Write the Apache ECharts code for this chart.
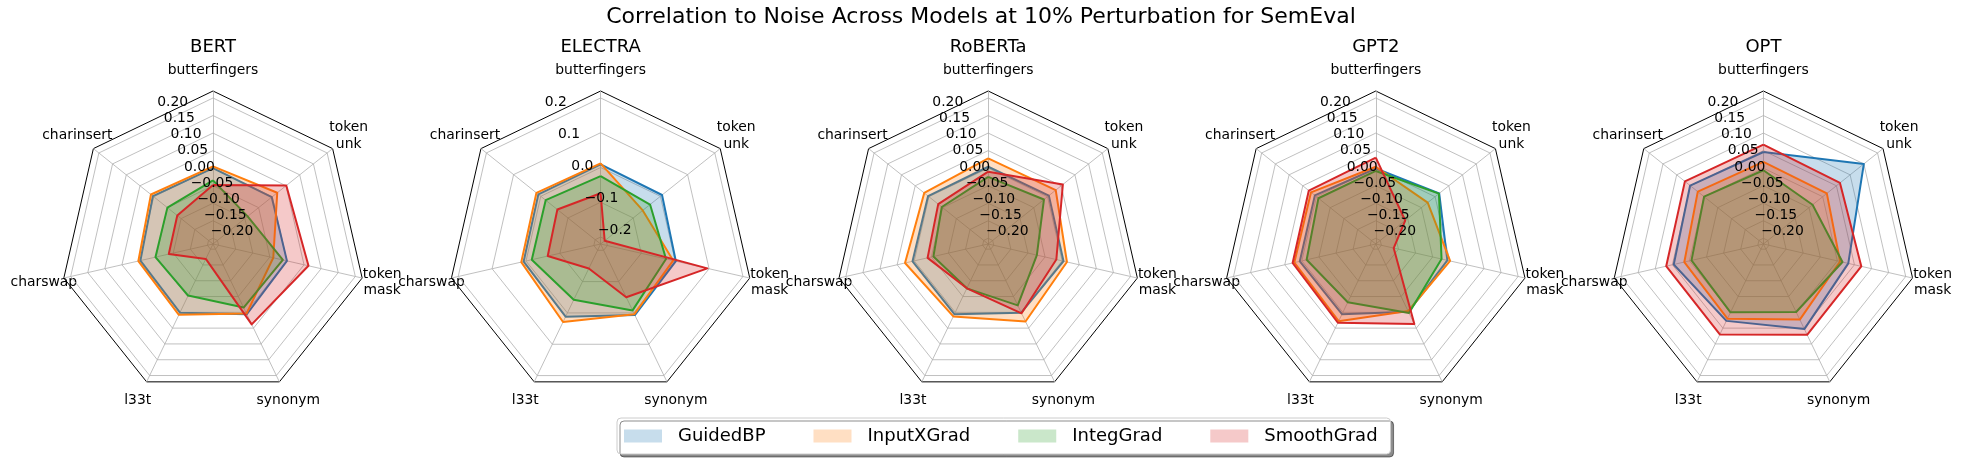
<!DOCTYPE html>
<html>
<head>
<meta charset="utf-8">
<script src="https://cdn.jsdelivr.net/npm/echarts@6/dist/echarts.min.js"></script>
<style>
html,body{margin:0;padding:0;background:#ffffff;}
#chart{width:1962px;height:463px;}
</style>
</head>
<body>
<div id="chart"></div>
<script>
// ---------------- data ----------------
const chartTitle = 'Correlation to Noise Across Models at 10% Perturbation for SemEval';
const models = ['BERT', 'ELECTRA', 'RoBERTa', 'GPT2', 'OPT'];
// perturbations in clockwise order starting at the top
const perturbations = ['butterfingers', 'token\nunk', 'token\nmask', 'synonym', 'l33t', 'charswap', 'charinsert'];
const methods = ['GuidedBP', 'InputXGrad', 'IntegGrad', 'SmoothGrad'];

const BERT_GuidedBP   = [0.000, -0.002, 0.000, 0.006, 0.001, -0.004, 0.003];
const BERT_InputXGrad = [0.005, 0.018, -0.040, 0.004, 0.008, 0.002, 0.010];
const BERT_IntegGrad  = [-0.035, -0.090, -0.012, -0.015, -0.053, -0.048, -0.050];
const BERT_SmoothGrad = [-0.048, 0.051, 0.063, 0.038, -0.169, -0.087, -0.086];

const ELECTRA_GuidedBP   = [0.009, 0.006, 0.002, 0.007, 0.012, 0.007, 0.009];
const ELECTRA_InputXGrad = [0.012, -0.065, -0.006, 0.004, 0.029, 0.014, 0.016];
const ELECTRA_IntegGrad  = [-0.025, -0.038, -0.027, -0.008, -0.042, -0.017, -0.018];
const ELECTRA_SmoothGrad = [-0.074, -0.205, 0.095, -0.050, -0.142, -0.064, -0.061];

const RoBERTa_GuidedBP   = [0.004, 0.005, 0.004, 0.001, 0.006, 0.005, 0.003];
const RoBERTa_InputXGrad = [0.028, 0.030, 0.014, 0.029, 0.013, 0.027, 0.017];
const RoBERTa_IntegGrad  = [-0.025, -0.013, -0.074, -0.022, -0.076, -0.056, -0.047];
const RoBERTa_SmoothGrad = [-0.010, 0.056, -0.017, 0.003, -0.076, -0.039, -0.034];

const GPT2_GuidedBP   = [-0.001, 0.015, -0.007, -0.002, 0.006, 0.006, 0.006];
const GPT2_InputXGrad = [0.004, -0.027, 0.001, -0.004, 0.028, 0.022, 0.020];
const GPT2_IntegGrad  = [-0.008, 0.014, -0.024, 0.002, -0.032, -0.014, -0.007];
const GPT2_SmoothGrad = [0.030, -0.109, -0.164, 0.037, 0.033, 0.027, 0.028];

const OPT_GuidedBP   = [0.046, 0.150, 0.032, 0.053, 0.027, 0.046, 0.051];
const OPT_InputXGrad = [0.018, 0.015, 0.008, 0.023, 0.020, 0.015, 0.023];
const OPT_IntegGrad  = [-0.006, -0.037, 0.015, -0.001, 0.000, -0.006, 0.000];
const OPT_SmoothGrad = [0.067, 0.063, 0.070, 0.071, 0.070, 0.068, 0.070];

// radial tick labels / grid rings
const ticksFine   = [-0.20, -0.15, -0.10, -0.05, 0.00, 0.05, 0.10, 0.15, 0.20];
const ticksCoarse = [-0.2, -0.1, 0.0, 0.1, 0.2];
// radial axis limits (centre value, outer frame value)
const rangeFine    = [-0.2163, 0.22];
const rangeElectra = [-0.22, 0.22];

// ---------------- assembly ----------------
const modelValues = {
  BERT:    [BERT_GuidedBP, BERT_InputXGrad, BERT_IntegGrad, BERT_SmoothGrad],
  ELECTRA: [ELECTRA_GuidedBP, ELECTRA_InputXGrad, ELECTRA_IntegGrad, ELECTRA_SmoothGrad],
  RoBERTa: [RoBERTa_GuidedBP, RoBERTa_InputXGrad, RoBERTa_IntegGrad, RoBERTa_SmoothGrad],
  GPT2:    [GPT2_GuidedBP, GPT2_InputXGrad, GPT2_IntegGrad, GPT2_SmoothGrad],
  OPT:     [OPT_GuidedBP, OPT_InputXGrad, OPT_IntegGrad, OPT_SmoothGrad]
};
const modelTicks = { BERT: ticksFine, ELECTRA: ticksCoarse, RoBERTa: ticksFine, GPT2: ticksFine, OPT: ticksFine };
const modelRange = { BERT: rangeFine, ELECTRA: rangeElectra, RoBERTa: rangeFine, GPT2: rangeFine, OPT: rangeFine };
const modelDecimals = { BERT: 2, ELECTRA: 1, RoBERTa: 2, GPT2: 2, OPT: 2 };

const lineColors = ['#1f77b4', '#ff7f0e', '#2ca02c', '#d62728'];
const fillColors = ['rgba(31,119,180,0.25)', 'rgba(255,127,14,0.25)', 'rgba(44,160,44,0.25)', 'rgba(214,39,40,0.25)'];

const FONT = 'DejaVu Sans';
const CX0 = 213, CDX = 387.6, CY = 244, R = 153;
const N = perturbations.length;
// ECharts radar runs counter-clockwise; matplotlib runs clockwise
const order = [0].concat(Array.from({length: N - 1}, (_, k) => N - 1 - k));
const reorder = arr => order.map(k => arr[k]);

function fmtTick(dec) {
  return function (v) {
    const r = Math.round(v * Math.pow(10, dec));
    if (r === 0) return (0).toFixed(dec);
    return (v < 0 ? '\u2212' : '') + Math.abs(v).toFixed(dec);
  };
}

const radars = [], series = [], titles = [];
titles.push({
  text: chartTitle, left: 'center', top: 6, padding: 0,
  textStyle: { fontFamily: FONT, fontSize: 22, fontWeight: 'normal', color: '#000' }
});

models.forEach((m, i) => {
  const cx = CX0 + i * CDX;
  const rng = modelRange[m];
  const ticks = modelTicks[m];
  const step = ticks[1] - ticks[0];
  const lmin = ticks[0] - step, lmax = ticks[ticks.length - 1];
  const span = rng[1] - rng[0];

  titles.push({
    text: m, left: cx, top: 38, padding: 0, textAlign: 'center',
    textStyle: { fontFamily: FONT, fontSize: 18, fontWeight: 'normal', color: '#000' }
  });

  // main radar (spokes, outer frame, axis names)
  radars.push({
    center: [cx, CY], radius: R, startAngle: 90, splitNumber: 1, shape: 'polygon',
    indicator: order.map(k => ({ name: perturbations[k], min: rng[0], max: rng[1] })),
    nameGap: 20.5,
    axisName: { color: '#000', fontFamily: FONT, fontSize: 13.9, lineHeight: 16.5, align: 'center', verticalAlign: 'middle' },
    axisLine: { show: true, lineStyle: { color: '#b0b0b0', width: 0.8 } },
    splitLine: { show: true, lineStyle: { color: '#000', width: 1 } },
    splitArea: { show: false },
    axisTick: { show: false },
    axisLabel: { show: false }
  });

  // label radar: same radial scale, tick labels along the 22.5 degree ray
  const shift = R * (rng[0] - lmin) / span;
  const ang = 112.5 * Math.PI / 180;
  radars.push({
    center: [cx - Math.cos(ang) * shift, CY + Math.sin(ang) * shift],
    radius: R * (lmax - lmin) / span,
    startAngle: 112.5, splitNumber: ticks.length, shape: 'polygon', z: 10,
    indicator: [
      { name: '', min: lmin, max: lmax, axisLabel: { show: true } },
      { name: '', min: lmin, max: lmax, axisLabel: { show: false } },
      { name: '', min: lmin, max: lmax, axisLabel: { show: false } }
    ],
    axisName: { show: false },
    axisLine: { show: false },
    splitLine: { show: false },
    splitArea: { show: false },
    axisTick: { show: false },
    axisLabel: {
      show: true, showMinLabel: false, showMaxLabel: true, margin: 0,
      align: 'left', verticalAlign: 'bottom',
      color: '#000', fontFamily: FONT, fontSize: 13.9,
      formatter: fmtTick(modelDecimals[m])
    }
  });

  const rIdx = 2 * i;
  // grid rings at tick values
  series.push({
    type: 'radar', name: 'grid', radarIndex: rIdx, silent: true, symbol: 'none', z: 1,
    lineStyle: { color: '#b0b0b0', width: 0.8 },
    data: ticks.map(t => ({ value: new Array(N).fill(t) }))
  });
  modelValues[m].forEach((vals, j) => {
    series.push({
      type: 'radar', name: methods[j], radarIndex: rIdx, symbol: 'none', z: 2 + j,
      itemStyle: { color: lineColors[j] },
      lineStyle: { color: lineColors[j], width: 2 },
      areaStyle: { color: fillColors[j], opacity: 1 },
      emphasis: { disabled: true },
      data: [{ value: reorder(vals) }]
    });
  });
});

const option = {
  animation: false,
  backgroundColor: '#ffffff',
  title: titles,
  legend: {
    data: methods.map((name, j) => ({
      name: name, icon: 'rect',
      itemStyle: { color: fillColors[j], borderWidth: 0 },
      lineStyle: { width: 0 }
    })),
    left: 617, top: 418,
    orient: 'horizontal',
    itemWidth: 38, itemHeight: 13, itemGap: 48,
    padding: [9, 13, 9, 7],
    backgroundColor: '#ffffff',
    borderColor: '#cccccc', borderWidth: 1, borderRadius: 4,
    shadowColor: 'rgba(0,0,0,0.45)', shadowOffsetX: 3, shadowOffsetY: 3, shadowBlur: 0,
    selectedMode: false,
    textStyle: { fontFamily: FONT, fontSize: 18, color: '#000', padding: [0, 0, 0, 11] }
  },
  radar: radars,
  series: series
};

const chart = echarts.init(document.getElementById('chart'), null, { renderer: 'canvas' });
chart.setOption(option);
</script>
</body>
</html>
